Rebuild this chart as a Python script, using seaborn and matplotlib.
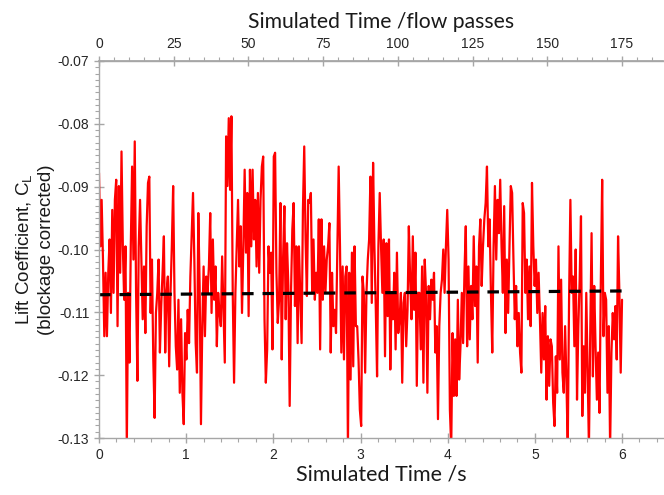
import numpy as np
import pandas as pd
import matplotlib
matplotlib.use("Agg")
import matplotlib.pyplot as plt
from matplotlib.ticker import MultipleLocator, FixedLocator, FormatStrFormatter
import seaborn as sns

# Lift coefficient samples (uniform sampling over 0..6 s)
cl_seg1 = [-0.0878, -0.0995, -0.0921, -0.1016, -0.1138, -0.1037, -0.1138, -0.1037, -0.0984, -0.1101,
           -0.0937, -0.1069, -0.0921, -0.0889, -0.1122, -0.0899, -0.1037, -0.0844, -0.0995, -0.1080,
           -0.0995, -0.1315, -0.1069, -0.1180, -0.0995, -0.0868, -0.1016, -0.0828, -0.1069, -0.1209,
           -0.0995, -0.0921, -0.1016, -0.1111, -0.1027, -0.1133, -0.0963, -0.0894, -0.0884, -0.1101,
           -0.1016, -0.1175, -0.1268, -0.1101, -0.1069, -0.1016, -0.1164, -0.1090, -0.1037, -0.0979,
           -0.1164, -0.1069, -0.1043, -0.1186, -0.1069, -0.0995, -0.0899, -0.1069, -0.1154, -0.1191,
           -0.1080, -0.1228, -0.1111]
cl_seg2 = [-0.1228, -0.1278, -0.1133, -0.1175, -0.1096, -0.1149, -0.1043, -0.0974, -0.0910, -0.1016,
           -0.1149, -0.1196, -0.0942, -0.1058, -0.1278, -0.1122, -0.1027, -0.1138, -0.1043, -0.1069,
           -0.1027, -0.0942, -0.1101, -0.0984, -0.1080, -0.1027, -0.1154, -0.1069, -0.1101, -0.1122,
           -0.1011, -0.1096, -0.1180, -0.0820, -0.0899, -0.0791, -0.0905, -0.0788, -0.1069, -0.1212,
           -0.1069, -0.0995, -0.0921, -0.1027, -0.0963, -0.1101, -0.0995, -0.0873, -0.1005, -0.0910,
           -0.1106, -0.0873, -0.0995, -0.0873, -0.0984, -0.0921, -0.1027, -0.0910, -0.1037, -0.0921,
           -0.0868, -0.0852, -0.1111, -0.1212, -0.1159, -0.0995]
cl_seg3 = [-0.1037, -0.1005, -0.1159, -0.0852, -0.0846, -0.1037, -0.1117, -0.1080, -0.0926, -0.1175,
           -0.1016, -0.0931, -0.1111, -0.0990, -0.1058, -0.1249, -0.1069, -0.0968, -0.0926, -0.1090,
           -0.0995, -0.1149, -0.0995, -0.1069, -0.1149, -0.0937, -0.0836, -0.0984, -0.1074, -0.0921,
           -0.0926, -0.0910, -0.1069, -0.0984, -0.1080, -0.1037, -0.1069, -0.0952, -0.1159, -0.0952,
           -0.1080, -0.0995, -0.1069, -0.1016, -0.0995, -0.0958, -0.1164, -0.1037, -0.1122, -0.1096,
           -0.1133, -0.0995, -0.0868, -0.0995, -0.1164, -0.1027, -0.1175, -0.1043, -0.1027, -0.1315,
           -0.1037, -0.1207, -0.1005, -0.1186, -0.0995, -0.1122]
cl_seg4 = [-0.1122, -0.1175, -0.1255, -0.1281, -0.1043, -0.1069, -0.1196, -0.1069, -0.1016, -0.0984,
           -0.0884, -0.1085, -0.0862, -0.0995, -0.1090, -0.1202, -0.0995, -0.0910, -0.0995, -0.1069,
           -0.0984, -0.1170, -0.0990, -0.1106, -0.0984, -0.1191, -0.1069, -0.1111, -0.1037, -0.1159,
           -0.1005, -0.1133, -0.1111, -0.1069, -0.1212, -0.1085, -0.1069, -0.1154, -0.1096, -0.0963,
           -0.1048, -0.1111, -0.0979, -0.1096, -0.1005, -0.1217, -0.1069, -0.1069, -0.1159, -0.1027,
           -0.1212, -0.1016, -0.1069, -0.1228, -0.1058, -0.1111, -0.1048, -0.1080, -0.1037, -0.1164,
           -0.1122, -0.1270, -0.1122, -0.1069, -0.1048, -0.1000]
cl_seg5 = [-0.1069, -0.0995, -0.0937, -0.1016, -0.1255, -0.1315, -0.1133, -0.1233, -0.1143, -0.1233,
           -0.1080, -0.1207, -0.1154, -0.1069, -0.1149, -0.1037, -0.0963, -0.1154, -0.1027, -0.1143,
           -0.1058, -0.1111, -0.0979, -0.1090, -0.1027, -0.1180, -0.0995, -0.0952, -0.1058, -0.0995,
           -0.0952, -0.0926, -0.0868, -0.0995, -0.0952, -0.1069, -0.1164, -0.0995, -0.0899, -0.1016,
           -0.0921, -0.0974, -0.0889, -0.0995, -0.1069, -0.0931, -0.1133, -0.1016, -0.1101, -0.0995,
           -0.0899, -0.0910, -0.1016, -0.1111, -0.1058, -0.1154, -0.1101, -0.1164, -0.1196, -0.0926,
           -0.0942, -0.1069, -0.1016, -0.1111, -0.1027, -0.1122]
cl_seg6 = [-0.0894, -0.0995, -0.1058, -0.1016, -0.1101, -0.1037, -0.1111, -0.1196, -0.1101, -0.1175,
           -0.1090, -0.1239, -0.1138, -0.1217, -0.1143, -0.1154, -0.1244, -0.1281, -0.1170, -0.1228,
           -0.0995, -0.1175, -0.1048, -0.1196, -0.1228, -0.1122, -0.1207, -0.1315, -0.1080, -0.0921,
           -0.1069, -0.1043, -0.1154, -0.1000, -0.1239, -0.1122, -0.1048, -0.0947, -0.1265, -0.1154,
           -0.1228, -0.1069, -0.1196, -0.1315, -0.1133, -0.0974, -0.1202, -0.1058, -0.1154, -0.1239,
           -0.1164, -0.1260, -0.1048, -0.0889, -0.1138, -0.1069, -0.1080, -0.1228, -0.1122, -0.1315,
           -0.1164, -0.1101, -0.1143, -0.1090, -0.1175, -0.0979, -0.1069, -0.1196, -0.1080]

t_start, t_end = 0.0, 6.0
mean_line_t = [0.0, 6.0]
mean_line_cl = [-0.1072, -0.1066]
flow_passes_per_s = 175.0 / 6.0
top_ticks = [0, 25, 50, 75, 100, 125, 150, 175]

cl = cl_seg1 + cl_seg2 + cl_seg3 + cl_seg4 + cl_seg5 + cl_seg6
t = np.linspace(t_start, t_end, len(cl))
df = pd.DataFrame({"t": t, "cl": cl})
df_mean = pd.DataFrame({"t": mean_line_t, "cl": mean_line_cl})

sns.set_theme(style="white")
plt.rcParams["font.family"] = ["Liberation Sans", "DejaVu Sans"]

fig = plt.figure(figsize=(6.64, 4.95), dpi=100)
ax = fig.add_axes([99/664, 1 - 438/495, (663-99)/664, (438-61)/495])

sns.lineplot(data=df, x="t", y="cl", ax=ax, color="#ff0000", linewidth=1.6, estimator=None)
sns.lineplot(data=df_mean, x="t", y="cl", ax=ax, color="black", linewidth=2.3,
             linestyle=(0, (3.6, 2.8)), estimator=None)

ax.set_xlim(0, 6.47)
ax.set_ylim(-0.13, -0.07)

spine_c = "#a6a6a6"
for side in ["left", "bottom", "top"]:
    ax.spines[side].set_color(spine_c)
    ax.spines[side].set_linewidth(1.0)
ax.spines["right"].set_visible(False)

ax.xaxis.set_major_locator(MultipleLocator(1))
ax.xaxis.set_minor_locator(MultipleLocator(0.2))
ax.yaxis.set_major_locator(MultipleLocator(0.01))
ax.yaxis.set_minor_locator(MultipleLocator(0.001))
ax.yaxis.set_major_formatter(FormatStrFormatter("%.2f"))

ax.tick_params(axis="both", which="major", direction="inout", length=7, width=1,
               color=spine_c, labelsize=10, labelcolor="#262626")
ax.tick_params(axis="both", which="minor", direction="out", length=3, width=0.8, color=spine_c)
ax.tick_params(axis="x", which="both", bottom=True, top=False)
ax.tick_params(axis="y", which="both", left=True, right=False)

secax = ax.secondary_xaxis("top", functions=(lambda x: x * flow_passes_per_s,
                                             lambda x: x / flow_passes_per_s))
secax.xaxis.set_major_locator(FixedLocator(top_ticks))
secax.xaxis.set_minor_locator(MultipleLocator(5))
secax.tick_params(axis="x", which="major", direction="inout", length=7, width=1,
                  color=spine_c, labelsize=10, labelcolor="#262626")
secax.tick_params(axis="x", which="minor", direction="out", length=3, width=0.8, color=spine_c)
secax.spines["top"].set_color(spine_c)

lab_font = ["Lato", "DejaVu Sans"]
ax.set_xlabel("Simulated Time /s", fontsize=15.5, family=lab_font, color="#1a1a1a", labelpad=2)
secax.set_xlabel("Simulated Time /flow passes", fontsize=15.2, family=lab_font, color="#1a1a1a", labelpad=7)
ax.set_ylabel("Lift Coefficient, C$_\\mathregular{L}$\n(blockage corrected)", fontsize=13.5,
              family=["Liberation Sans", "DejaVu Sans"], color="#1a1a1a", labelpad=2, linespacing=1.2)

fig.savefig("out.png", dpi=100)
